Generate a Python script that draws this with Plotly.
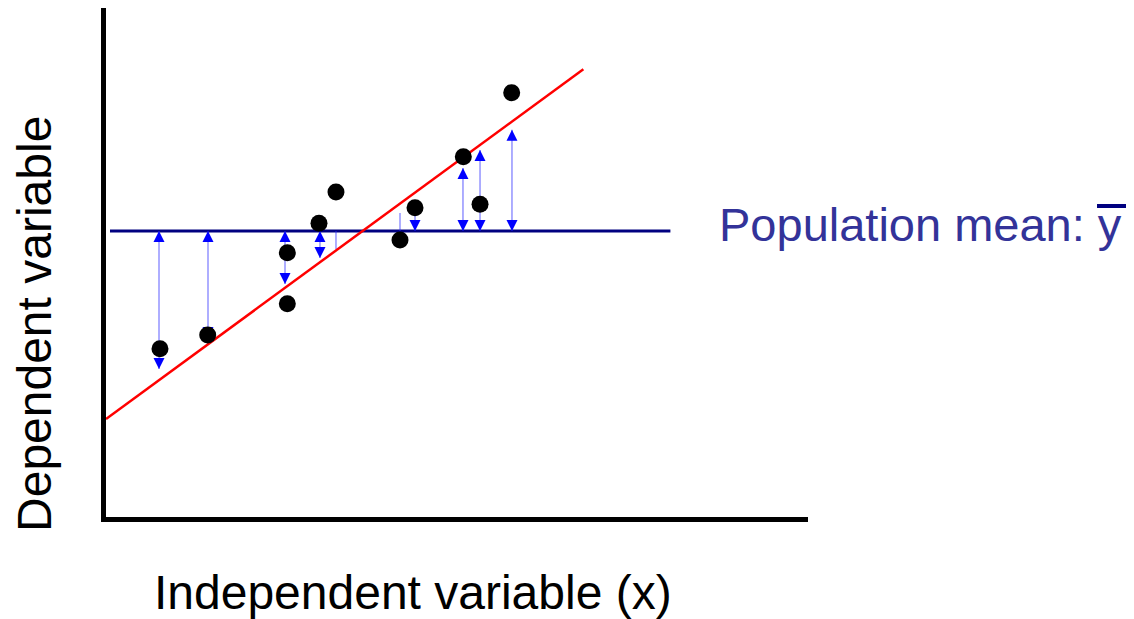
import plotly.graph_objects as go

# ---- data (axis range 0..10 on both axes) ----
point_x = [0.769, 1.449, 2.583, 2.583, 3.034, 3.276, 4.188, 4.402, 5.090, 5.328, 5.779]
point_y = [3.306, 3.576, 5.193, 4.191, 5.770, 6.385, 5.442, 6.077, 7.079, 6.143, 8.336]

population_mean = 5.619
mean_line_x = [0.057, 8.04]

reg_intercept = 1.925
reg_slope = 1.0106
reg_line_x = [0.0, 6.80]

# explained deviations: from the mean to the regression line at each x
arrow_x = [0.755, 1.453, 2.550, 3.048, 3.276, 4.188, 4.402, 5.085, 5.328, 5.783]
arrow_end = [2.908, 3.517, 4.578, 5.088, 5.265, 5.972, 6.228, 6.857, 7.210, 7.607]

x_title = "Independent variable (x)"
y_title = "Dependent variable"
mean_label = "Population mean: y"

FONT = "Liberation Sans, Arial, Helvetica, sans-serif"

fig = go.Figure()

# mean line
fig.add_trace(go.Scatter(
    x=mean_line_x, y=[population_mean] * len(mean_line_x), mode="lines",
    line=dict(color="#000080", width=3), hoverinfo="skip", showlegend=False))

# deviation arrows (shafts)
for ax, ae in zip(arrow_x, arrow_end):
    fig.add_trace(go.Scatter(
        x=[ax, ax], y=[population_mean, ae], mode="lines",
        line=dict(color="rgba(40,40,255,0.5)", width=1.5),
        hoverinfo="skip", showlegend=False))

# arrow heads (only where the arrow is long enough)
up_x, up_y, dn_x, dn_y = [], [], [], []
for ax, ae in zip(arrow_x, arrow_end):
    if abs(ae - population_mean) < 0.45:
        continue
    top, bot = max(ae, population_mean), min(ae, population_mean)
    up_x.append(ax); up_y.append(top)
    dn_x.append(ax); dn_y.append(bot)
fig.add_trace(go.Scatter(
    x=up_x, y=up_y, mode="markers",
    marker=dict(symbol="arrow-up", size=11, color="#0000ff", line=dict(width=0)),
    hoverinfo="skip", showlegend=False))
fig.add_trace(go.Scatter(
    x=dn_x, y=dn_y, mode="markers",
    marker=dict(symbol="arrow-down", size=11, color="#0000ff", line=dict(width=0)),
    hoverinfo="skip", showlegend=False))

# regression line
fig.add_trace(go.Scatter(
    x=reg_line_x, y=[reg_intercept + reg_slope * v for v in reg_line_x], mode="lines",
    line=dict(color="#ff0000", width=2.5), hoverinfo="skip", showlegend=False))

# data points
fig.add_trace(go.Scatter(
    x=point_x, y=point_y, mode="markers",
    marker=dict(color="black", size=17, line=dict(width=0)),
    hoverinfo="skip", showlegend=False))

axis_common = dict(
    range=[0, 10], showline=True, linewidth=5, linecolor="black",
    showgrid=False, zeroline=False, showticklabels=False, ticks="", fixedrange=True)

# the page body adds an 8px offset, so the figure is 8px smaller than the window
fig.update_layout(
    width=1126, height=611,
    margin=dict(l=98, r=326, t=0, b=102),
    paper_bgcolor="white", plot_bgcolor="white",
    xaxis=axis_common, yaxis=axis_common,
    font=dict(family=FONT),
    annotations=[
        dict(text=x_title, xref="paper", yref="paper", x=0.4373, y=-0.149,
             xanchor="center", yanchor="middle", showarrow=False,
             font=dict(size=48, color="black", family=FONT)),
        dict(text=y_title, xref="paper", yref="paper", x=-0.102, y=0.380,
             xanchor="center", yanchor="middle", showarrow=False, textangle=-90,
             font=dict(size=48, color="black", family=FONT)),
        dict(text=mean_label, xref="paper", yref="paper", x=0.8703, y=0.5756,
             xanchor="left", yanchor="middle", showarrow=False,
             font=dict(size=47, color="#333399", family=FONT)),
    ],
    shapes=[
        dict(type="line", xref="paper", yref="paper", x0=1.4117, x1=1.4573,
             y0=0.611, y1=0.611, line=dict(color="#000080", width=4)),
    ],
)

fig.write_html("out.html")
